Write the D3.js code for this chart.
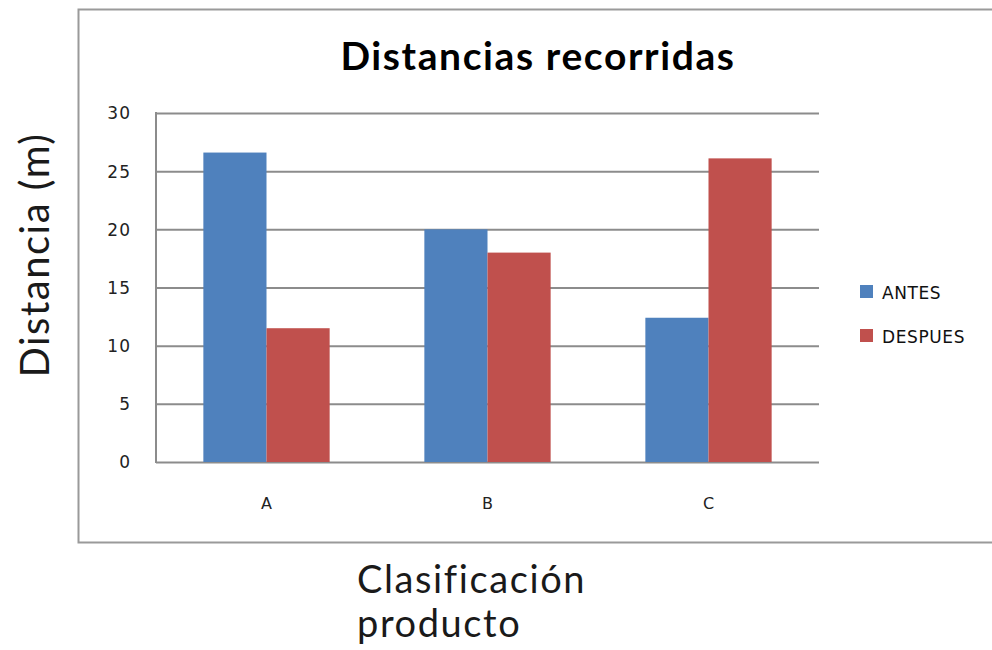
<!DOCTYPE html>
<html>
<head>
<meta charset="utf-8">
<script src="https://cdn.jsdelivr.net/npm/d3@7/dist/d3.min.js"></script>
<style>
  html, body { margin: 0; padding: 0; background: #fff; }
  svg { display: block; }
</style>
</head>
<body>
<svg id="chart" width="992" height="650"></svg>
<script>
// Distances travelled per product class, before and after the change
const categories = ["A", "B", "C"];
const seriesNames = ["ANTES", "DESPUES"];
const antes = [26.6, 20.0, 12.4];
const despues = [11.5, 18.0, 26.1];
const yTicks = [0, 5, 10, 15, 20, 25, 30];
const seriesColors = ["#4F81BD", "#C0504D"];

const svg = d3.select("#chart");
const plot = { left: 156, right: 819, top: 113, bottom: 462 };

// outer chart frame (its right edge runs past the page)
svg.append("path")
  .attr("d", `M1000,9.5 H78.5 V542.5 H1000`)
  .attr("fill", "none").attr("stroke", "#9a9a9a").attr("stroke-width", 2);

const x0 = d3.scaleBand().domain(categories).range([plot.left, plot.right]).paddingInner(0).paddingOuter(0);
// two bars with a gap of 1.5 bar widths per category
const groupW = x0.bandwidth() * 2 / 3.5;
const x1 = d3.scaleBand().domain(seriesNames).range([0, groupW]).padding(0);
const y = d3.scaleLinear().domain([0, 30]).range([plot.bottom, plot.top]);

// horizontal gridlines
const yAxis = d3.axisLeft(y).tickValues(yTicks).tickSize(-(plot.right - plot.left)).tickPadding(25).tickFormat(d3.format("d"));
const gy = svg.append("g").attr("transform", `translate(${plot.left},0)`).call(yAxis);
gy.select(".domain").remove();
gy.selectAll(".tick line").attr("stroke", "#8c8c8c").attr("stroke-width", 2);
gy.selectAll(".tick text")
  .attr("font-family", "DejaVu Sans, sans-serif").attr("font-size", 17).attr("letter-spacing", 1)
  .attr("fill", "#222")
  .attr("dy", "0.35em");

// left axis line
svg.append("line")
  .attr("x1", plot.left).attr("x2", plot.left)
  .attr("y1", plot.top - 1).attr("y2", plot.bottom + 1)
  .attr("stroke", "#8c8c8c").attr("stroke-width", 2);

const data = categories.map((c, i) => ({ cat: c, values: [antes[i], despues[i]] }));

const groups = svg.append("g").selectAll("g").data(data).join("g")
  .attr("transform", d => `translate(${x0(d.cat) + (x0.bandwidth() - groupW) / 2},0)`);

groups.selectAll("rect")
  .data(d => d.values.map((v, j) => ({ key: seriesNames[j], value: v, j })))
  .join("rect")
  .attr("x", d => x1(d.key))
  .attr("width", x1.bandwidth())
  .attr("y", d => y(d.value))
  .attr("height", d => y(0) - y(d.value))
  .attr("fill", d => seriesColors[d.j]);

// category labels
const xAxis = d3.axisBottom(x0).tickSize(0).tickPadding(0);
const gx = svg.append("g").attr("transform", `translate(0,${plot.bottom})`).call(xAxis);
gx.select(".domain").remove();
gx.selectAll(".tick text")
  .attr("font-family", "DejaVu Sans, sans-serif").attr("font-size", 16).attr("fill", "#222")
  .attr("y", 47).attr("dy", 0);

// title
svg.append("text")
  .attr("x", 538).attr("y", 70)
  .attr("text-anchor", "middle")
  .attr("font-family", "Lato, sans-serif").attr("font-weight", "bold").attr("font-size", 39)
  .attr("letter-spacing", 1.6)
  .attr("fill", "#000")
  .text("Distancias recorridas");

// y axis title
svg.append("text")
  .attr("transform", "translate(49,255) rotate(-90)")
  .attr("text-anchor", "middle")
  .attr("font-family", "Lato, sans-serif").attr("font-size", 40)
  .attr("letter-spacing", 1.5)
  .attr("fill", "#1a1a1a")
  .text("Distancia (m)");

// x axis title (two lines)
const xt = svg.append("text")
  .attr("font-family", "Lato, sans-serif").attr("font-size", 38)
  .attr("letter-spacing", 1.6)
  .attr("fill", "#1a1a1a");
xt.append("tspan").attr("x", 357).attr("y", 593).text("Clasificación");
xt.append("tspan").attr("x", 357).attr("y", 637).text("producto");

// legend
const legend = svg.append("g").selectAll("g").data(seriesNames).join("g")
  .attr("transform", (d, i) => `translate(860,${285 + i * 44})`);
legend.append("rect").attr("width", 13).attr("height", 13).attr("fill", (d, i) => seriesColors[i]);
legend.append("text")
  .attr("x", 22).attr("y", 13.5)
  .attr("font-family", "DejaVu Sans, sans-serif").attr("font-size", 17).attr("letter-spacing", 0.6)
  .attr("fill", "#111")
  .text(d => d);
</script>
</body>
</html>
